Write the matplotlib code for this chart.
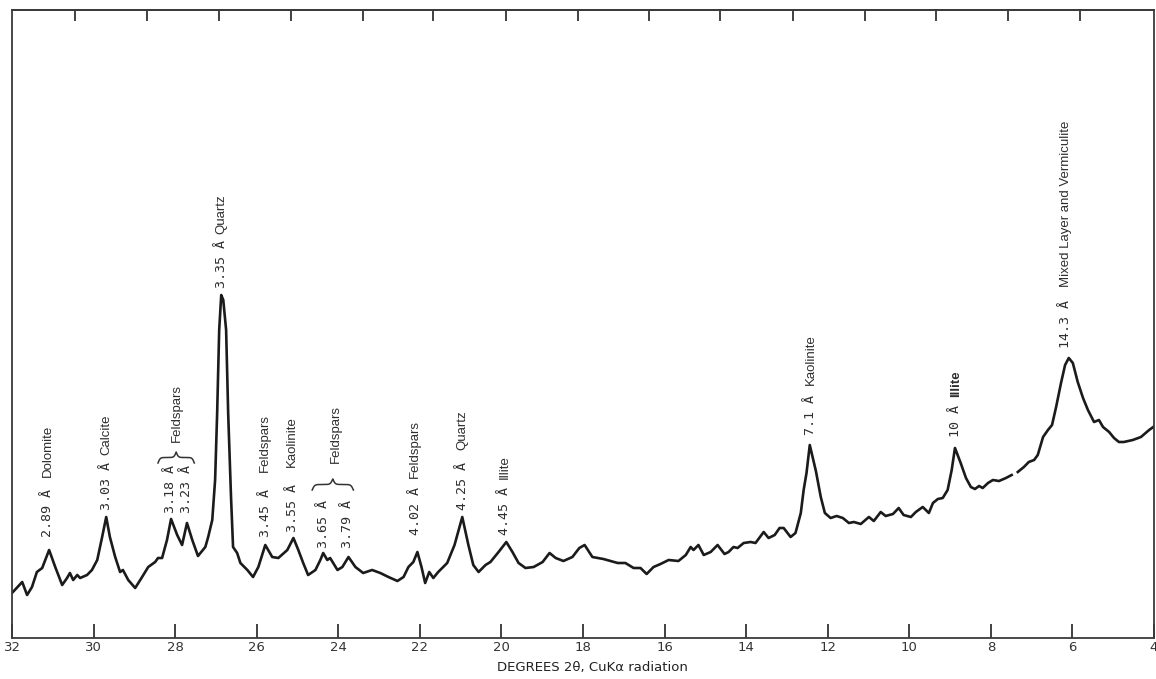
import numpy as np
import matplotlib
matplotlib.use("Agg")
import matplotlib.pyplot as plt

# ---- data: X-ray diffraction trace (degrees 2-theta, arbitrary intensity) ----
theta_a = [32.00, 31.75, 31.63, 31.51, 31.39, 31.26, 31.09, 30.94, 30.77, 30.65,
           30.58, 30.50, 30.40, 30.33, 30.16, 30.04, 29.91, 29.79, 29.69, 29.60,
           29.47, 29.35, 29.28, 29.15, 28.98, 28.81, 28.66, 28.49, 28.42, 28.32,
           28.20, 28.10, 27.95, 27.83, 27.71, 27.58, 27.44, 27.26, 27.19, 27.09,
           27.02, 26.97, 26.92, 26.87, 26.82, 26.75, 26.70, 26.63, 26.58, 26.48,
           26.40, 26.23, 26.09, 25.96, 25.79, 25.62, 25.47, 25.25, 25.10, 24.98,
           24.86, 24.74, 24.56, 24.44, 24.37, 24.27, 24.20, 24.02, 23.90, 23.75,
           23.58, 23.39, 23.17, 22.97, 22.77, 22.55, 22.40, 22.28, 22.16, 22.06,
           21.96, 21.87, 21.77, 21.67, 21.55, 21.33, 21.15, 20.96, 20.81, 20.69,
           20.56, 20.39, 20.27, 20.07, 19.88, 19.73, 19.58, 19.41, 19.21, 18.99,
           18.82, 18.67, 18.48, 18.26, 18.09, 17.96, 17.77, 17.50, 17.15, 16.96,
           16.76, 16.59, 16.44, 16.27, 16.10, 15.90, 15.66, 15.48, 15.36, 15.29,
           15.17, 15.04, 14.87, 14.70, 14.53, 14.43, 14.31, 14.21, 14.06, 13.89,
           13.77, 13.57, 13.45, 13.30, 13.18, 13.08, 12.91, 12.79, 12.66, 12.59,
           12.52, 12.44, 12.29, 12.17, 12.07, 11.93, 11.78, 11.63, 11.48, 11.36,
           11.19, 10.99, 10.87, 10.70, 10.58, 10.40, 10.26, 10.14, 9.96, 9.84,
           9.67, 9.52, 9.42, 9.30, 9.18, 9.06, 8.96, 8.88, 8.74, 8.61,
           8.49, 8.39, 8.29, 8.20, 8.07, 7.95, 7.80, 7.63, 7.49]
intensity_a = [45, 56, 43, 51, 66, 70, 88, 71, 53, 60,
               65, 58, 63, 60, 63, 68, 78, 101, 121, 101,
               81, 66, 68, 58, 50, 61, 71, 76, 80, 80,
               98, 119, 103, 93, 115, 98, 82, 91, 101, 118,
               158, 225, 308, 343, 338, 308, 225, 141, 91, 85,
               75, 68, 61, 71, 93, 81, 80, 88, 100, 88,
               75, 63, 68, 78, 85, 78, 80, 68, 71, 81,
               71, 65, 68, 65, 61, 57, 61, 71, 76, 86,
               71, 55, 66, 60, 66, 75, 93, 121, 93, 73,
               66, 73, 76, 86, 96, 86, 75, 70, 71, 76,
               85, 80, 77, 81, 90, 93, 81, 79, 75, 75,
               70, 70, 64, 71, 74, 78, 77, 83, 91, 88,
               93, 83, 86, 93, 84, 86, 91, 90, 95, 96,
               95, 106, 100, 103, 110, 110, 101, 105, 125, 148,
               165, 193, 167, 141, 125, 120, 122, 120, 115, 116,
               114, 121, 117, 126, 122, 124, 130, 123, 121, 126,
               131, 125, 135, 139, 140, 148, 168, 190, 175, 160,
               151, 149, 152, 150, 155, 158, 157, 160, 163]
# second segment (after the pen break near 7.4 degrees)
theta_b = [7.34, 7.19, 7.07, 6.94, 6.85, 6.72, 6.60, 6.50, 6.40, 6.28,
           6.18, 6.09, 5.99, 5.87, 5.74, 5.62, 5.47, 5.35, 5.25, 5.10,
           4.98, 4.86, 4.74, 4.52, 4.32, 4.12, 3.95]
intensity_b = [166, 171, 176, 178, 183, 201, 208, 213, 231, 255,
               273, 280, 275, 256, 240, 228, 216, 218, 211, 206,
               200, 196, 196, 198, 201, 208, 213]

x_ticks = [32, 30, 28, 26, 24, 22, 20, 18, 16, 14, 12, 10, 8, 6, 4]
x_tick_labels = [str(t) for t in x_ticks]
# chart-paper marks along the top edge
top_marks = [30.45, 28.69, 26.92, 25.15, 23.39, 21.67, 19.90, 18.13, 16.39,
             14.63, 12.86, 11.09, 9.35, 7.58, 5.82]

# peak labels: (d-spacing text, mineral, x position, value bottom, name bottom)
peak_labels = [
    ("2.89 Å", "Dolomite", 31.12, 101, 161),
    ("3.03 Å", "Calcite", 29.69, 128, 183),
    ("3.35 Å", "Quartz", 26.87, 350, 404),
    ("3.45 Å", "Feldspars", 25.79, 101, 166),
    ("3.55 Å", "Kaolinite", 25.13, 106, 171),
    ("4.02 Å", "Feldspars", 22.11, 103, 160),
    ("4.25 Å", "Quartz", 20.96, 128, 188),
    ("4.45 Å", "Illite", 19.93, 103, 159),
    ("7.1 Å", "Kaolinite", 12.42, 203, 253),
    ("10 Å", "Illite", 8.86, 201, 241),
    ("14.3 Å", "Mixed Layer and Vermiculite", 6.16, 290, 351),
]
# grouped peaks sharing one mineral name with a brace
group_labels = [
    (["3.18 Å", "3.23 Å"], [28.12, 27.73], 125, "Feldspars", 27.95, 196, (28.42, 27.53), 175),
    (["3.65 Å", "3.79 Å"], [24.37, 23.78], 90, "Feldspars", 24.07, 175, (24.64, 23.63), 148),
]

INK = "#1b1b1b"
VAL_FONT = dict(family="DejaVu Sans Mono", fontsize=9.6, color="#2e2e2e")
NAME_FONT = dict(family="Liberation Sans", fontsize=9.5, color="#2e2e2e")

fig = plt.figure(figsize=(11.56, 6.79), dpi=100)
ax = fig.add_axes([12 / 1156, 41 / 679, 1142 / 1156, 628 / 679])

ax.plot(theta_a, intensity_a, color=INK, lw=1.9, solid_joinstyle="round")
ax.plot(theta_b, intensity_b, color=INK, lw=1.9, solid_joinstyle="round")

ax.set_xlim(32, 4)
ax.set_ylim(0, 628)
ax.set_yticks([])
ax.set_xticks(x_ticks)
ax.set_xticklabels(x_tick_labels, fontsize=9.5, color="#333333")
ax.tick_params(axis="x", direction="in", length=10, width=1.3, color="#333333", pad=2)
for s in ax.spines.values():
    s.set_linewidth(1.3)
    s.set_color("#3a3a3a")

sec = ax.secondary_xaxis("top")
sec.set_xticks(top_marks)
sec.tick_params(direction="in", length=8, width=1.3, color="#333333", labeltop=False)
sec.spines["top"].set_linewidth(1.3)
sec.spines["top"].set_color("#3a3a3a")

ax.set_xlabel("DEGREES 2θ, CuKα radiation", fontsize=9.5, color="#222222",
              family="DejaVu Sans")
ax.xaxis.set_label_coords(0.508, -0.036)

for val, name, x, yb, yn in peak_labels:
    ax.text(x, yb, val, rotation=90, ha="center", va="bottom", **VAL_FONT)
    w = "bold" if name == "Illite" and val.startswith("10") else "normal"
    ax.text(x, yn, name, rotation=90, ha="center", va="bottom", fontweight=w, **NAME_FONT)


def brace(ax, span, base, height):
    x0, x1 = span
    n = 201
    t = np.linspace(0, 1, n)
    th = t[: n // 2 + 1]
    beta = 35.0
    yh = 1 / (1 + np.exp(-beta * (th - th[0]))) + 1 / (1 + np.exp(-beta * (th - th[-1])))
    yy = np.concatenate((yh, yh[-2::-1]))
    xx = x0 + (x1 - x0) * t
    ax.plot(xx, base + (yy - 0.5) * height, color="#333333", lw=1.1)


for vals, xs, yb, name, xn, yn, span, bbase in group_labels:
    for v, x in zip(vals, xs):
        ax.text(x, yb, v, rotation=90, ha="center", va="bottom", **VAL_FONT)
    brace(ax, span, bbase, 11)
    ax.text(xn, yn, name, rotation=90, ha="center", va="bottom", **NAME_FONT)

fig.savefig("out.png", dpi=100, facecolor="white")
